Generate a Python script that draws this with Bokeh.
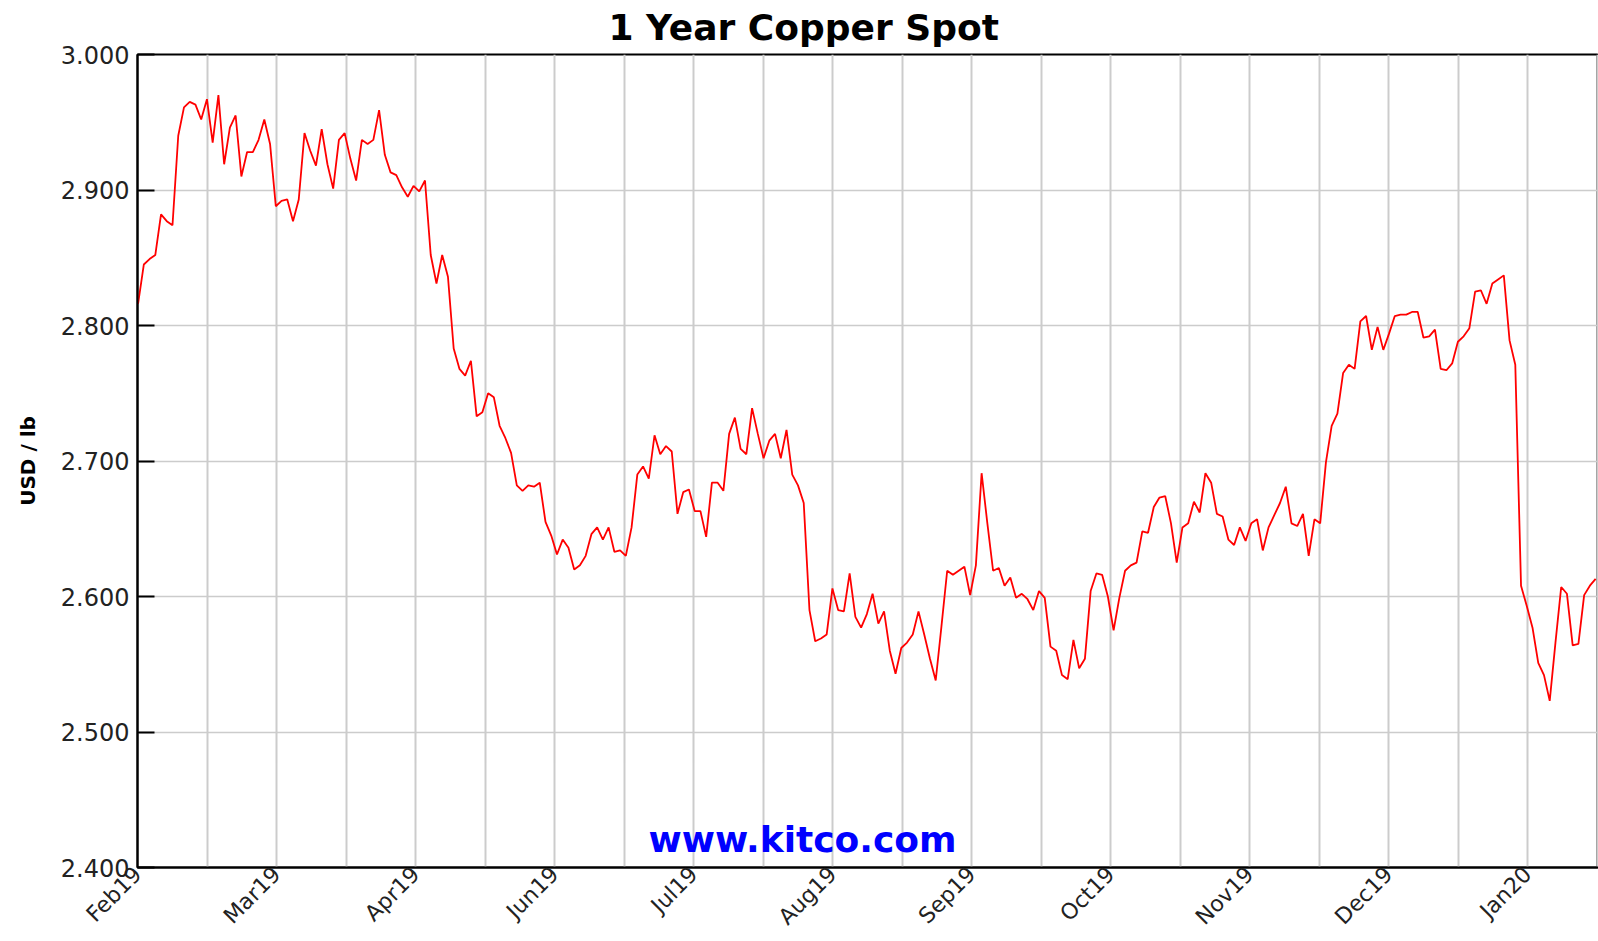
from bokeh.plotting import figure
from bokeh.models import Range1d, FixedTicker, PrintfTickFormatter, Label, ColumnDataSource
from bokeh.embed import file_html
from bokeh.resources import INLINE
import math

# ---------------- data ----------------
title_text = "1 Year Copper Spot"
y_label = "USD / lb"
watermark = "www.kitco.com"
month_labels = ["Feb19", "Mar19", "Apr19", "Jun19", "Jul19", "Aug19",
                "Sep19", "Oct19", "Nov19", "Dec19", "Jan20"]
y_ticks = [2.4, 2.5, 2.6, 2.7, 2.8, 2.9, 3.0]

price_part1 = [2.816, 2.845, 2.849, 2.852, 2.882, 2.877, 2.874, 2.940, 2.961, 2.965,
               2.963, 2.952, 2.967, 2.935, 2.970, 2.919, 2.946, 2.955, 2.910, 2.928,
               2.928, 2.937, 2.952, 2.934, 2.888, 2.892, 2.893, 2.877, 2.893, 2.942,
               2.929, 2.918, 2.945, 2.919, 2.901, 2.937, 2.942, 2.923, 2.907, 2.937,
               2.934, 2.937, 2.959, 2.926, 2.913]
price_part2 = [2.911, 2.902, 2.895, 2.903, 2.899, 2.907, 2.852, 2.831, 2.852, 2.836,
               2.783, 2.768, 2.763, 2.774, 2.733, 2.736, 2.750, 2.747, 2.726, 2.717,
               2.706, 2.682, 2.678, 2.682, 2.681, 2.684, 2.655, 2.645, 2.631, 2.642,
               2.636, 2.620, 2.623, 2.630, 2.646, 2.651, 2.642, 2.651, 2.633, 2.634,
               2.630, 2.651]
price_part3 = [2.690, 2.696, 2.687, 2.719, 2.705, 2.711, 2.707, 2.661, 2.677, 2.679,
               2.663, 2.663, 2.644, 2.684, 2.684, 2.678, 2.720, 2.732, 2.709, 2.705,
               2.739, 2.720, 2.702, 2.715, 2.720, 2.702, 2.723, 2.690, 2.682, 2.669,
               2.590, 2.567, 2.569, 2.572, 2.606, 2.590, 2.589, 2.617, 2.585, 2.577]
price_part4 = [2.587, 2.602, 2.580, 2.589, 2.560, 2.543, 2.562, 2.566, 2.572, 2.589,
               2.572, 2.554, 2.538, 2.578, 2.619, 2.616, 2.619, 2.622, 2.601, 2.623,
               2.691, 2.654, 2.619, 2.621, 2.608, 2.614, 2.599, 2.602, 2.598, 2.590,
               2.604, 2.599, 2.563, 2.560, 2.542, 2.539, 2.568, 2.547, 2.554, 2.604]
price_part5 = [2.617, 2.616, 2.600, 2.575, 2.599, 2.619, 2.623, 2.625, 2.648, 2.647,
               2.666, 2.673, 2.674, 2.654, 2.625, 2.651, 2.654, 2.670, 2.662, 2.691,
               2.684, 2.661, 2.659, 2.642, 2.638, 2.651, 2.641, 2.654, 2.657, 2.634,
               2.651, 2.660, 2.669, 2.681, 2.654, 2.652, 2.661, 2.630, 2.657, 2.654]
price_part6 = [2.699, 2.726, 2.735, 2.765, 2.771, 2.768, 2.803, 2.807, 2.782, 2.799,
               2.782, 2.794, 2.807, 2.808, 2.808, 2.810, 2.810, 2.791, 2.792, 2.797,
               2.768, 2.767, 2.772, 2.788, 2.792, 2.798, 2.825, 2.826, 2.816, 2.831,
               2.834, 2.837, 2.789, 2.771, 2.608, 2.593, 2.577, 2.551, 2.542, 2.523,
               2.566, 2.607, 2.602, 2.564, 2.565, 2.601, 2.608, 2.613]

price = price_part1 + price_part2 + price_part3 + price_part4 + price_part5 + price_part6
day = list(range(len(price)))

# ---------------- layout ----------------
x_start, x_end = -0.1, 254.5
grid_step = 12.113
grid_pos = [round(x_start + k * grid_step, 4) for k in range(22)]
overrides = {}
for k, g in enumerate(grid_pos):
    overrides[g] = month_labels[k // 2] if (k % 2 == 0 and k // 2 < len(month_labels)) else ""

FONT = "DejaVu Sans"

p = figure(width=1598, height=941, output_backend="svg", toolbar_location=None,
           x_range=Range1d(x_start, x_end), y_range=Range1d(2.4, 3.0),
           min_border_left=137, min_border_right=0, min_border_top=54, min_border_bottom=74)

p.background_fill_color = "white"
p.border_fill_color = "white"
p.outline_line_color = "black"
p.outline_line_width = 2

p.title.text = title_text
p.title.text_font = FONT
p.title.text_font_size = "36px"
p.title.text_font_style = "bold"
p.title.text_color = "black"
p.title.align = "left"
p.title.vertical_align = "top"
p.title.offset = 471
p.title.standoff = 10

src = ColumnDataSource(dict(day=day, price=price))
p.line("day", "price", source=src, line_color="#ff0000", line_width=1.8)

# x axis
xa = p.xaxis[0]
xa.ticker = FixedTicker(ticks=grid_pos)
xa.major_label_overrides = overrides
xa.major_label_orientation = math.pi / 4
xa.major_label_text_font = FONT
xa.major_label_text_font_size = "22px"
xa.major_label_text_color = "#222222"
xa.major_label_standoff = 3
xa.major_tick_in = 0
xa.major_tick_out = 0
xa.minor_tick_in = 0
xa.minor_tick_out = 0
xa.axis_line_color = "black"
xa.axis_line_width = 2

# y axis
ya = p.yaxis[0]
ya.ticker = FixedTicker(ticks=y_ticks)
ya.formatter = PrintfTickFormatter(format="%.3f")
ya.major_label_text_font = FONT
ya.major_label_text_font_size = "24px"
ya.major_label_text_color = "#222222"
ya.major_label_standoff = 8
ya.major_tick_in = 17
ya.major_tick_out = 0
ya.major_tick_line_width = 2
ya.major_tick_line_color = "black"
ya.minor_tick_in = 0
ya.minor_tick_out = 0
ya.axis_line_color = "black"
ya.axis_line_width = 2
ya.axis_label = y_label
ya.axis_label_text_font = FONT
ya.axis_label_text_font_size = "20px"
ya.axis_label_text_font_style = "bold"
ya.axis_label_text_color = "black"
ya.axis_label_standoff = 18

# grids
p.xgrid.ticker = FixedTicker(ticks=grid_pos)
p.xgrid.grid_line_color = "#cccccc"
p.xgrid.grid_line_width = 2
p.ygrid.ticker = FixedTicker(ticks=y_ticks)
p.ygrid.grid_line_color = "#cccccc"
p.ygrid.grid_line_width = 1.6

# watermark
wm = Label(x=115.8, y=2.4205, text=watermark, text_align="center", text_baseline="alphabetic",
           text_font=FONT, text_font_size="36px", text_font_style="bold", text_color="#0000ff")
p.add_layout(wm)

open("out.html", "w").write(file_html(p, INLINE))
